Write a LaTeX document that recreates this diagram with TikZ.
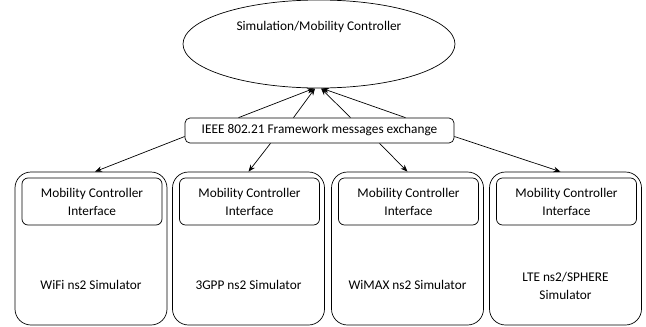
\documentclass[tikz,border=0pt]{standalone}
\usepackage{fontspec}
\setmainfont{Carlito}
\usetikzlibrary{shapes.geometric, arrows.meta, calc}

\tikzset{
  ctrl/.style = {ellipse, draw, minimum width=272pt, minimum height=88pt},
  msgbox/.style = {draw, rounded corners=5pt, minimum width=269pt, minimum height=25pt, inner sep=1pt},
  simbox/.style = {draw, rounded corners=16pt, minimum width=152pt, minimum height=153pt},
  ifbox/.style = {draw, rounded corners=6pt, minimum width=140pt, minimum height=47pt, align=center, inner sep=1pt},
  txt/.style = {align=center},
  link/.style = {-{Stealth[length=7pt, width=5.5pt]}},
}

\begin{document}
\begin{tikzpicture}[x=1pt, y=-1pt, font=\fontsize{13.3}{18}\selectfont, line width=0.7pt]
        \useasboundingbox (0,0) rectangle (646,327);

        \node[ctrl] at (319,44) (ctrl) {};
        \node[txt] at (319,27) (ctrltxt) {Simulation/Mobility Controller};
        \node[msgbox] at (319.5,130.5) (msg) {IEEE 802.21 Framework messages exchange};

        \node[simbox] at (91,248.5) (wifi) {};
        \node[simbox] at (248.5,248.5) (gpp) {};
        \node[simbox] at (407.5,248.5) (wimax) {};
        \node[simbox] at (565.5,248.5) (lte) {};

        \node[ifbox] at (92,201.5) (wifiif) {Mobility Controller\\Interface};
        \node[ifbox] at (249.5,201.5) (gppif) {Mobility Controller\\Interface};
        \node[ifbox] at (408.5,201.5) (wimaxif) {Mobility Controller\\Interface};
        \node[ifbox] at (566.5,201.5) (lteif) {Mobility Controller\\Interface};

        \node[txt] at (91,285) (wifitxt) {WiFi ns2 Simulator};
        \node[txt] at (248.5,285) (gpptxt) {3GPP ns2 Simulator};
        \node[txt] at (407.5,285) (wimaxtxt) {WiMAX ns2 Simulator};
        \node[txt] at (565.5,286) (ltetxt) {LTE ns2/SPHERE\\Simulator};

        \draw[link] ([xshift=-81pt]msg.north) -- ([xshift=-5pt]ctrl.south);
        \draw[link] ([xshift=-26pt]msg.north) -- ([xshift=-4pt]ctrl.south);
        \draw[link] ([xshift=31pt]msg.north) -- ([xshift=2pt]ctrl.south);
        \draw[link] ([xshift=86pt]msg.north) -- ([xshift=3pt]ctrl.south);

        \draw[link] ([yshift=-6pt]msg.west) -- ([xshift=4pt]wifi.north);
        \draw[link] ([xshift=-49pt]msg.south) -- (gpp.north);
        \draw[link] ([xshift=60pt]msg.south) -- (wimax.north);
        \draw[link] ([yshift=-6pt]msg.east) -- ([xshift=-5pt]lte.north);
    \end{tikzpicture}
\end{document}
